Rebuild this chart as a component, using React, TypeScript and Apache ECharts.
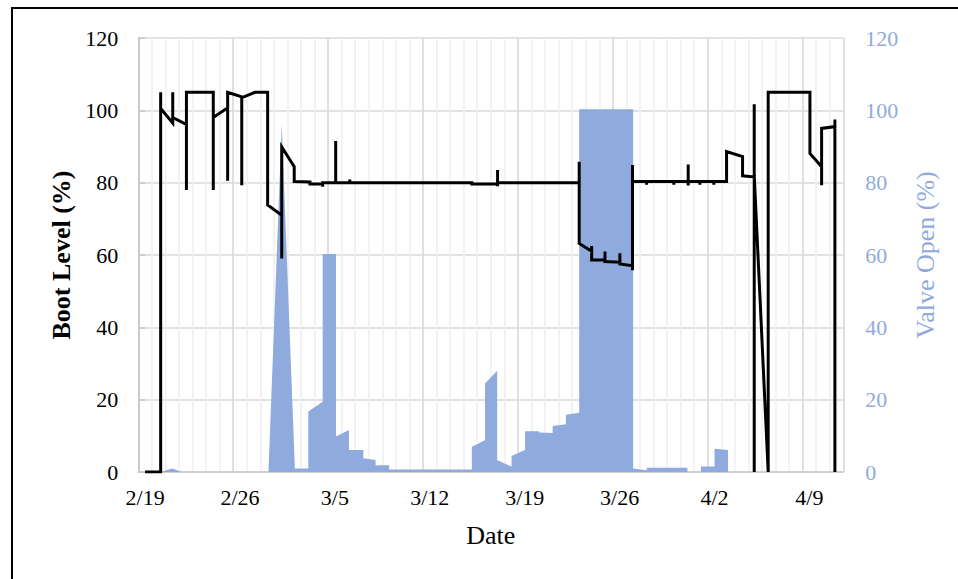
import React, { useEffect, useRef } from "react";
import * as echarts from "echarts";

// x positions are in days since 2/19 (0 = start of 2/19)
const tickLabels = ["2/19", "2/26", "3/5", "3/12", "3/19", "3/26", "4/2", "4/9"];
const dayCount = 52;

const bootX = [
  0.5, 1.65, 1.65, 1.65, 2.54, 2.54, 2.54, 3.55, 3.55, 3.55, 5.53, 5.53, 5.53, 6.59, 6.59, 6.59,
  7.63, 7.63, 7.63, 8.61, 9.54, 9.54, 10.58, 10.58, 10.58, 11.5, 11.5, 12.66, 12.66, 13.6, 13.6,
  13.6, 14.56, 14.56, 14.56, 15.6, 15.6, 15.6, 24.6, 24.6, 26.5, 26.5, 26.5, 26.5, 32.52, 32.52,
  32.52, 33.44, 33.44, 33.44, 33.44, 34.42, 34.42, 34.42, 35.52, 35.52, 35.52, 36.45, 36.45,
  36.45, 36.45, 37.49, 37.49, 37.49, 39.5, 39.5, 39.5, 40.56, 40.56, 40.56, 40.56, 41.42, 41.42,
  41.42, 42.45, 42.45, 42.45, 43.39, 43.39, 44.57, 44.57, 45.43, 45.43, 45.43, 45.43, 46.46,
  46.46, 49.54, 49.54, 50.4, 50.4, 50.4, 51.38, 51.38, 51.38,
];
const bootLevel = [
  0, 0, 105, 100.5, 96.5, 105, 98, 96.1, 78, 105, 105, 78, 98, 100.7, 80.5, 105,
  103.7, 79.3, 103.5, 105, 105, 73.8, 71, 59, 89.9, 84.4, 80.3, 80.2, 79.6, 79.6, 78.9,
  80, 80, 91.5, 80, 80, 80.9, 80, 80, 79.6, 79.6, 83.5, 79, 80, 80, 85.8,
  63.2, 61, 62.5, 58.6, 58.6, 58.6, 61, 58.2, 58, 60.5, 57.5, 57, 55.8,
  84.9, 80.3, 80.3, 79.4, 80.3, 80.3, 79.4, 80.3, 80.3, 85, 79.2, 80.3, 80.3, 79.4,
  80.3, 80.3, 79.4, 80.3, 80.3, 88.6, 87.2, 81.9, 81.6, 101.7, 0, 82, 0,
  105, 105, 88.1, 84.4, 79.3, 95, 95.5, 97.5, 0,
];

const valveX = [
  0, 1.65, 2.5, 3.2, 9.6, 10.58, 11.55, 12.54, 12.54, 13.6, 13.6, 14.58, 14.58, 15.54, 15.54,
  16.6, 16.6, 17.5, 17.5, 18.5, 18.5, 24.6, 24.6, 25.57, 25.57, 26.47, 26.47, 27.53, 27.53, 28.52,
  28.52, 29.57, 29.57, 30.56, 30.56, 31.54, 31.54, 32.52, 32.52, 36.5, 36.5, 37.5, 37.5, 40.5,
  40.5, 41.5, 41.5, 42.5, 42.5, 43.5, 43.5, 52,
];
const valveOpen = [
  0, 0, 1, 0, 0, 96, 1, 1, 16.7, 19.4, 60.3, 60.3, 9.8, 11.6, 6.1,
  6.1, 3.8, 3.3, 1.9, 1.9, 0.7, 0.7, 7, 8.8, 24.5, 28, 3.3, 1.5, 4.4, 6.1,
  11.3, 11.3, 10.9, 10.8, 12.7, 13.2, 15.8, 16.4, 100.3, 100.3, 1, 0.5, 1.2, 1.2,
  0, 0, 1.5, 1.5, 6.4, 6.1, 0, 0,
];

const FONT = "'Liberation Serif', 'Times New Roman', serif";
const BLUE = "#8FAADC";

export default function App() {
  const ref = useRef<HTMLDivElement>(null);
  useEffect(() => {
    if (!ref.current) return;
    const chart = echarts.init(ref.current, null, { renderer: "svg" });
    const categories: string[] = [];
    for (let i = 0; i < dayCount; i++) {
      categories.push(i % 7 === 0 ? tickLabels[i / 7] ?? "" : "");
    }
    const bootData = bootX.map((x, i) => [x, bootLevel[i]]);
    const valveData = valveX.map((x, i) => [x, valveOpen[i]]);
    chart.setOption({
      animation: false,
      textStyle: { fontFamily: FONT },
      graphic: [
        {
          type: "rect",
          shape: { x: 12, y: 8, width: 1200, height: 1200 },
          style: { fill: "none", stroke: "#000", lineWidth: 2 },
          silent: true,
          z: 100,
        },
      ],
      grid: { left: 138.3, right: 114.7, top: 38, bottom: 107 },
      xAxis: [
        {
          type: "value",
          min: 0,
          max: dayCount,
          interval: 1,
          position: "bottom",
          axisLine: { show: false, onZero: false },
          axisTick: { show: false },
          axisLabel: { show: false },
          splitLine: { show: true, lineStyle: { color: "#efefef", width: 1.5 } },
        },
        {
          type: "value",
          min: 0,
          max: dayCount,
          interval: 7,
          position: "bottom",
          axisLine: { show: true, onZero: false, lineStyle: { color: "#d0d0d0", width: 2 } },
          axisTick: { show: false },
          axisLabel: { show: false },
          splitLine: { show: true, lineStyle: { color: "#d9d9d9", width: 1.5 } },
        },
        {
          type: "category",
          data: categories,
          boundaryGap: true,
          position: "bottom",
          axisLine: { show: false, onZero: false },
          axisTick: { show: false },
          splitLine: { show: false },
          axisLabel: { interval: 0, fontFamily: FONT, fontSize: 22, color: "#000", margin: 14 },
          name: "Date",
          nameLocation: "middle",
          nameGap: 50,
          nameTextStyle: { fontFamily: FONT, fontSize: 26, color: "#000" },
        },
      ],
      yAxis: [
        {
          type: "value",
          min: 0,
          max: 120,
          interval: 20,
          position: "left",
          axisLine: { show: true, lineStyle: { color: "#d0d0d0", width: 1.5 } },
          axisTick: { show: false },
          axisLabel: { fontFamily: FONT, fontSize: 22, color: "#000", margin: 20 },
          splitLine: { show: true, lineStyle: { color: "#d9d9d9", width: 1.5 } },
          name: "Boot Level (%)",
          nameLocation: "middle",
          nameRotate: 90,
          nameGap: 64,
          nameTextStyle: { fontFamily: FONT, fontSize: 26, fontWeight: "bold", color: "#000" },
        },
        {
          type: "value",
          min: 0,
          max: 120,
          interval: 20,
          position: "right",
          axisLine: { show: true, lineStyle: { color: "#c8c8c8", width: 1.5 } },
          axisTick: { show: true, inside: false, length: 7, lineStyle: { color: "#c8c8c8", width: 1.5 } },
          axisLabel: { fontFamily: FONT, fontSize: 22, color: BLUE, margin: 22 },
          splitLine: { show: false },
          name: "Valve Open (%)",
          nameLocation: "middle",
          nameRotate: 90,
          nameGap: 69,
          nameTextStyle: { fontFamily: FONT, fontSize: 26, color: BLUE },
        },
      ],
      series: [
        {
          type: "line",
          name: "Valve Open",
          xAxisIndex: 0,
          yAxisIndex: 1,
          data: valveData,
          symbol: "none",
          lineStyle: { width: 0, color: BLUE },
          itemStyle: { color: BLUE },
          areaStyle: { color: BLUE, opacity: 1 },
          z: 2,
        },
        {
          type: "line",
          name: "Boot Level",
          xAxisIndex: 0,
          yAxisIndex: 0,
          data: bootData,
          symbol: "none",
          lineStyle: { color: "#000", width: 3, join: "miter", cap: "butt" },
          itemStyle: { color: "#000" },
          z: 3,
        },
      ],
    });
    return () => chart.dispose();
  }, []);
  return (
    <div
      ref={ref}
      style={{ position: "absolute", left: 0, top: 0, width: 958, height: 579, background: "#fff" }}
    />
  );
}
